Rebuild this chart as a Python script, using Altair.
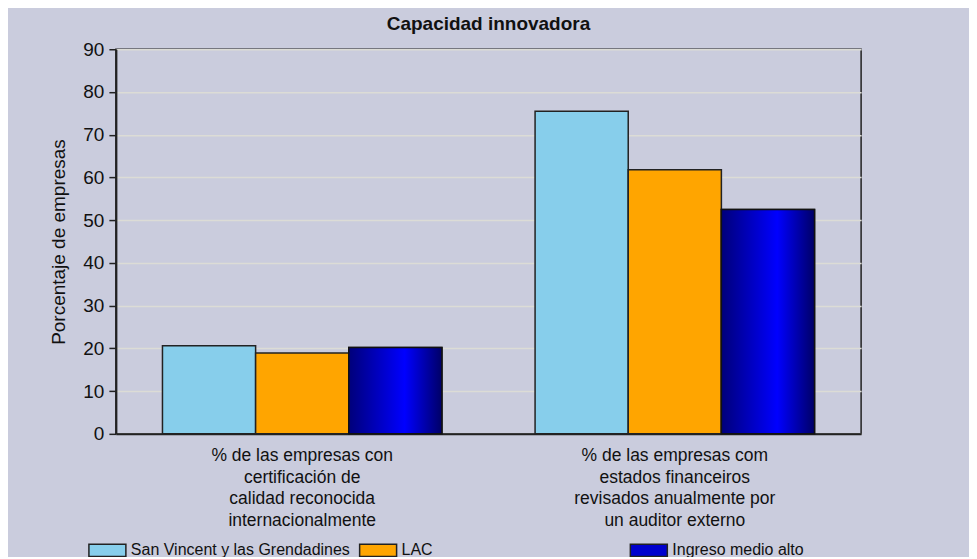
import altair as alt
import pandas as pd

categories = [
    "% de las empresas con|certificación de|calidad reconocida|internacionalmente",
    "% de las empresas com|estados financeiros|revisados anualmente por|un auditor externo",
]
series = ["San Vincent y las Grendadines", "LAC", "Ingreso medio alto"]
san_vincent = [20.6, 75.5]
lac = [18.9, 61.8]
ingreso = [20.2, 52.5]
colors = ["#87CEEB", "#FFA500", "#0000CD"]

rows = []
for i, c in enumerate(categories):
    for s, vals in zip(series, [san_vincent, lac, ingreso]):
        rows.append({"categoria": c, "serie": s, "valor": vals[i]})
df = pd.DataFrame(rows)

font = "Liberation Sans"

x_enc = alt.X(
    "categoria:N",
    sort=categories,
    scale=alt.Scale(paddingInner=0.25, paddingOuter=0.125),
    axis=alt.Axis(
        title=None,
        labelAngle=0,
        labelExpr="split(datum.label, '|')",
        ticks=False,
        labelPadding=13,
        labelFontSize=17.5,
        labelLineHeight=21.5,
        labelColor="#111",
        labelFont=font,
        domainColor="#222",
        domainWidth=2,
        grid=False,
        labelLimit=400,
    ),
)
y_enc = alt.Y(
    "valor:Q",
    scale=alt.Scale(domain=[0, 90], nice=False),
    axis=alt.Axis(
        title="Porcentaje de empresas",
        values=list(range(0, 100, 10)),
        tickSize=7,
        tickColor="#222",
        tickWidth=1.5,
        domainColor="#222",
        domainWidth=2,
        labelFontSize=19,
        labelFont=font,
        labelColor="#111",
        labelPadding=5,
        titleFontSize=19,
        titleFont=font,
        titleFontWeight="normal",
        titleColor="#111",
        titlePadding=14,
        gridColor="#DCDCD6",
        gridWidth=1.5,
    ),
)
xoff = alt.XOffset("serie:N", sort=series, scale=alt.Scale(domain=series))

base = alt.Chart(df).encode(x=x_enc, y=y_enc, xOffset=xoff)

bars = base.mark_bar(stroke="#222", strokeWidth=1.5).encode(
    color=alt.Color(
        "serie:N",
        sort=series,
        scale=alt.Scale(domain=series, range=colors),
        legend=alt.Legend(
            title=None,
            orient="none",
            legendX=-28,
            legendY=482,
            direction="horizontal",
            columns=3,
            gridAlign="all",
            columnPadding=6,
            symbolType="M-1,-0.33L1,-0.33L1,0.33L-1,0.33Z",
            symbolSize=1369,
            symbolStrokeColor="#222",
            symbolStrokeWidth=1.5,
            symbolOpacity=1,
            labelFontSize=16,
            labelFont=font,
            labelColor="#111",
            labelLimit=400,
        ),
    )
)

gradient = alt.Gradient(
    gradient="linear",
    stops=[
        alt.GradientStop(color="#00007A", offset=0),
        alt.GradientStop(color="#0000FF", offset=0.6),
        alt.GradientStop(color="#000066", offset=1),
    ],
    x1=0, x2=1, y1=0, y2=0,
)
overlay = base.transform_filter(
    alt.datum.serie == "Ingreso medio alto"
).mark_bar(fill=gradient, stroke="#111", strokeWidth=1.5)

chart = (
    alt.layer(bars, overlay)
    .properties(
        width=746,
        height=385,
        autosize=alt.AutoSizeParams(type="none"),
        padding={"left": 108, "top": 41, "right": 108, "bottom": 123},
        background="#CACCDD",
        title=alt.Title(
            "Capacidad innovadora",
            fontSize=19,
            font=font,
            fontWeight="bold",
            color="#111",
            anchor="middle",
            offset=6,
        ),
    )
    .configure_view(stroke="#222", strokeWidth=1.5, fill="#CACCDD")
)

chart.save("out.html", embed_options={"renderer": "svg", "actions": False})
